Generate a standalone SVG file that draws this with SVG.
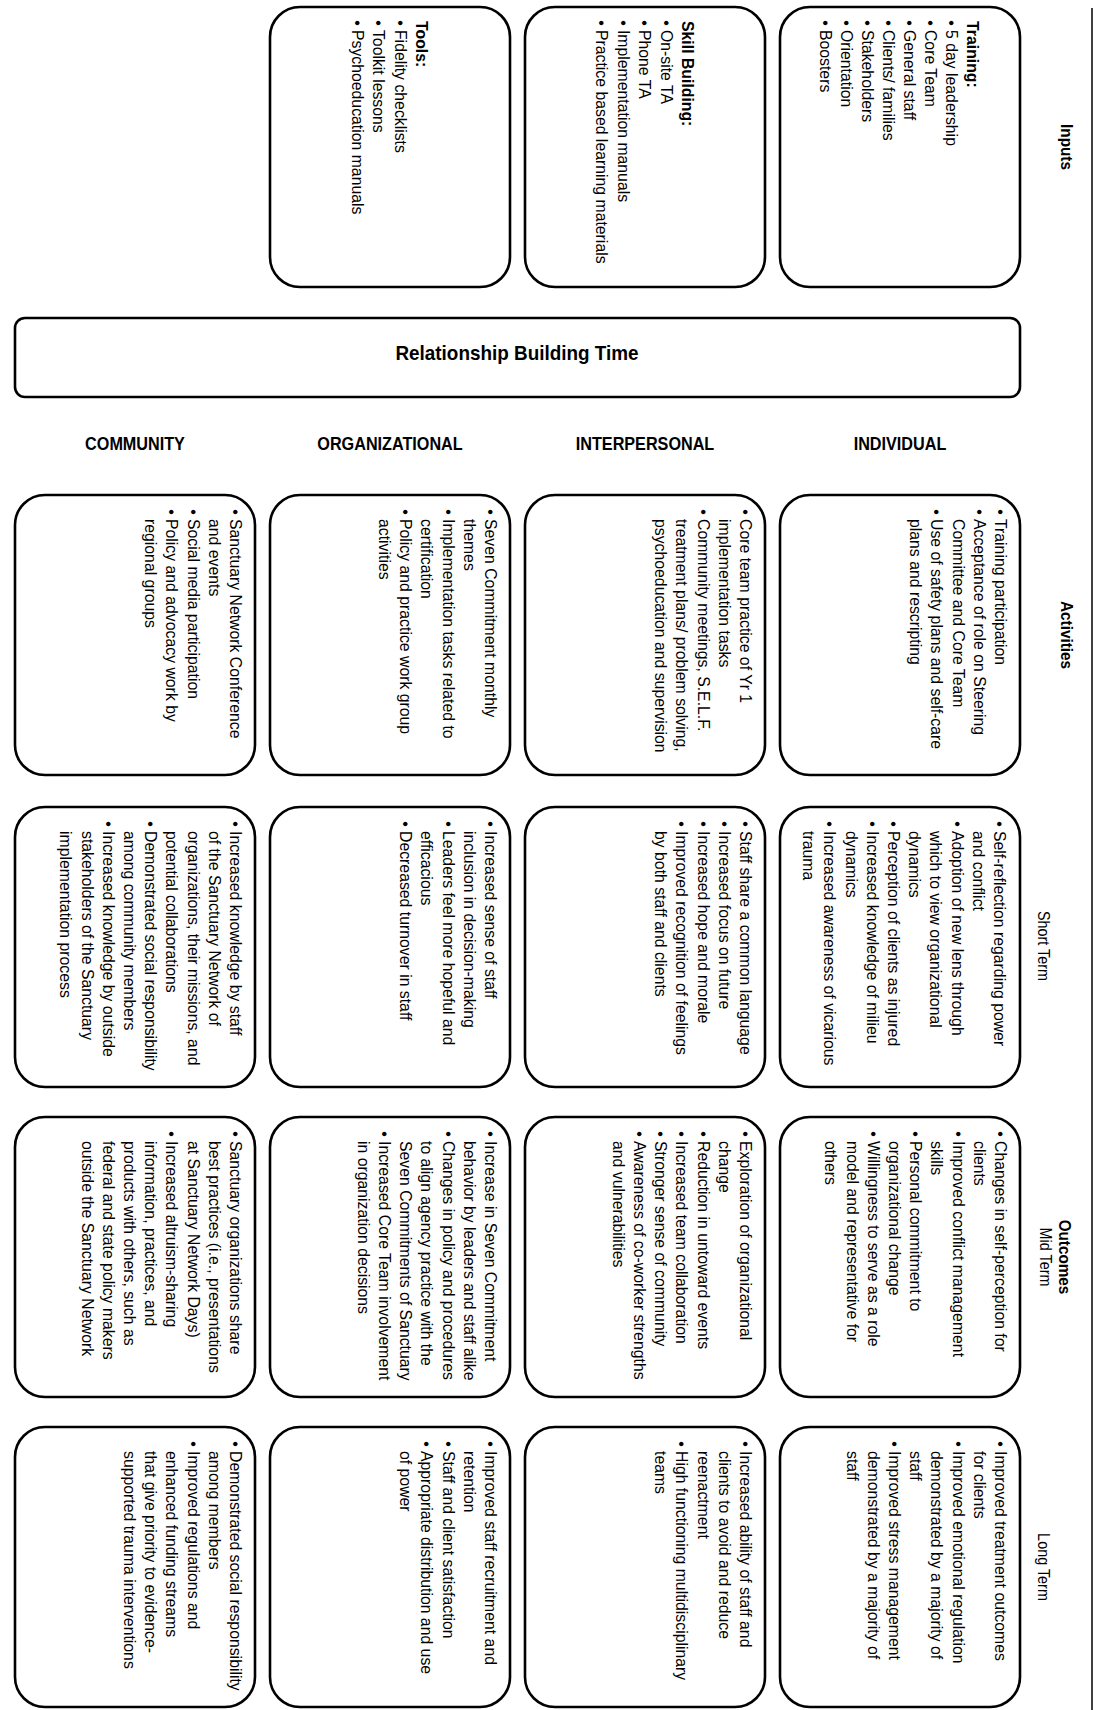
<svg xmlns="http://www.w3.org/2000/svg" width="1095" height="1710" viewBox="0 0 1095 1710">
<style>
.box{fill:#fff;stroke:#000;stroke-width:2.6}
.t{font-family:"Liberation Sans",Arial,Helvetica,sans-serif;font-size:17px;fill:#000}
.bd{font-weight:bold}
.hd{font-family:"Liberation Sans",Arial,Helvetica,sans-serif;font-size:17px;font-weight:bold;fill:#000;text-anchor:middle}
.rh{font-family:"Liberation Sans",Arial,Helvetica,sans-serif;font-size:18px;font-weight:bold;fill:#000;text-anchor:middle}
.lb{font-family:"Liberation Sans",Arial,Helvetica,sans-serif;font-size:16px;fill:#000;text-anchor:middle}
.sep{stroke:#000;stroke-width:1.5;fill:none}
</style>
<rect width="1095" height="1710" fill="#fff"/>

<g id="separator"><line class="sep" x1="1092" y1="8" x2="1092" y2="1710"/></g>
<g id="connectors"/>

<g id="column-labels">
<text class="hd" transform="translate(1061,147) rotate(90) scale(0.9,1)">Inputs</text>
<text class="hd" transform="translate(1061,635) rotate(90) scale(0.9,1)">Activities</text>
<text class="lb" transform="translate(1038,946) rotate(90) scale(0.9,1)">Short Term</text>
<text class="hd" transform="translate(1059,1257) rotate(90) scale(0.9,1)">Outcomes</text>
<text class="lb" transform="translate(1040,1257) rotate(90) scale(0.9,1)">Mid Term</text>
<text class="lb" transform="translate(1038,1567) rotate(90) scale(0.9,1)">Long Term</text>
</g>

<g id="row-headers">
<text class="rh" transform="translate(135,450) scale(0.9,1)">COMMUNITY</text>
<text class="rh" transform="translate(390,450) scale(0.9,1)">ORGANIZATIONAL</text>
<text class="rh" transform="translate(645,450) scale(0.9,1)">INTERPERSONAL</text>
<text class="rh" transform="translate(900,450) scale(0.9,1)">INDIVIDUAL</text>
</g>

<!-- Inputs -->
<g id="input-training">
<rect class="box" x="780" y="7" width="240" height="280" rx="30"/>
<g transform="translate(967,7) rotate(90) scale(0.93,1)">
<text class="t bd" x="15.1" y="0">Training:</text>
<text class="t"><tspan x="14.3" y="21">•</tspan><tspan x="14.3" y="42">•</tspan><tspan x="14.3" y="63">•</tspan><tspan x="14.3" y="84">•</tspan><tspan x="14.3" y="105">•</tspan><tspan x="14.3" y="126">•</tspan><tspan x="14.3" y="147">•</tspan></text>
<text class="t"><tspan x="24.7" y="21">5 day leadership</tspan><tspan x="24.7" y="42">Core Team</tspan><tspan x="24.7" y="63">General staff</tspan><tspan x="24.7" y="84">Clients/ families</tspan><tspan x="24.7" y="105">Stakeholders</tspan><tspan x="24.7" y="126">Orientation</tspan><tspan x="24.7" y="147">Boosters</tspan></text>
</g>
</g>

<g id="input-skill-building">
<rect class="box" x="525" y="7" width="240" height="280" rx="30"/>
<g transform="translate(682,7) rotate(90) scale(0.93,1)">
<text class="t bd" x="15.1" y="0">Skill Building:</text>
<text class="t"><tspan x="14.3" y="21.4">•</tspan><tspan x="14.3" y="42.8">•</tspan><tspan x="14.3" y="64.2">•</tspan><tspan x="14.3" y="85.6">•</tspan></text>
<text class="t"><tspan x="24.7" y="21.4">On-site TA</tspan><tspan x="24.7" y="42.8">Phone TA</tspan><tspan x="24.7" y="64.2">Implementation manuals</tspan><tspan x="24.7" y="85.6">Practice based learning materials</tspan></text>
</g>
</g>

<g id="input-tools">
<rect class="box" x="270" y="7" width="240" height="280" rx="30"/>
<g transform="translate(416,7) rotate(90) scale(0.93,1)">
<text class="t bd" x="15.1" y="0">Tools:</text>
<text class="t"><tspan x="14.3" y="21.4">•</tspan><tspan x="14.3" y="42.8">•</tspan><tspan x="14.3" y="64.2">•</tspan></text>
<text class="t"><tspan x="24.7" y="21.4">Fidelity checklists</tspan><tspan x="24.7" y="42.8">Toolkit lessons</tspan><tspan x="24.7" y="64.2">Psychoeducation manuals</tspan></text>
</g>
</g>

<g id="relationship-building-time">
<rect class="box" x="15" y="318" width="1005" height="79" rx="10"/>
<text transform="translate(517,360) scale(0.9,1)" style="font-family:'Liberation Sans',Arial,sans-serif;font-size:21px;font-weight:bold;text-anchor:middle">Relationship Building Time</text>
</g>

<!-- Activities -->
<g id="act-individual">
<rect class="box" x="780" y="495" width="240" height="280" rx="30"/>
<g transform="translate(995,495) rotate(90) scale(0.93,1)">
<text class="t"><tspan x="15.4" y="0">•</tspan><tspan x="15.4" y="21.2">•</tspan><tspan x="15.4" y="63.6">•</tspan></text>
<text class="t"><tspan x="25.8" y="0">Training participation</tspan><tspan x="25.8" y="21.2">Acceptance of role on Steering</tspan><tspan x="25.8" y="42.4">Committee and Core Team</tspan><tspan x="25.8" y="63.6">Use of safety plans and self-care</tspan><tspan x="25.8" y="84.8">plans and rescripting</tspan></text>
</g>
</g>

<g id="act-interpersonal">
<rect class="box" x="525" y="495" width="240" height="280" rx="30"/>
<g transform="translate(740,495) rotate(90) scale(0.93,1)">
<text class="t"><tspan x="15.4" y="0">•</tspan><tspan x="15.4" y="42.4">•</tspan></text>
<text class="t"><tspan x="25.8" y="0">Core team practice of Yr 1</tspan><tspan x="25.8" y="21.2">implementation tasks</tspan><tspan x="25.8" y="42.4">Community meetings, S.E.L.F.</tspan><tspan x="25.8" y="63.6">treatment plans/ problem solving,</tspan><tspan x="25.8" y="84.8">psychoeducation and supervision</tspan></text>
</g>
</g>

<g id="act-organizational">
<rect class="box" x="270" y="495" width="240" height="280" rx="30"/>
<g transform="translate(485,495) rotate(90) scale(0.93,1)">
<text class="t"><tspan x="15.4" y="0">•</tspan><tspan x="15.4" y="42.4">•</tspan><tspan x="15.4" y="84.8">•</tspan></text>
<text class="t"><tspan x="25.8" y="0">Seven Commitment monthly</tspan><tspan x="25.8" y="21.2">themes</tspan><tspan x="25.8" y="42.4">Implementation tasks related to</tspan><tspan x="25.8" y="63.6">certification</tspan><tspan x="25.8" y="84.8">Policy and practice work group</tspan><tspan x="25.8" y="106">activities</tspan></text>
</g>
</g>

<g id="act-community">
<rect class="box" x="15" y="495" width="240" height="280" rx="30"/>
<g transform="translate(230,495) rotate(90) scale(0.93,1)">
<text class="t"><tspan x="15.4" y="0">•</tspan><tspan x="15.4" y="42.4">•</tspan><tspan x="15.4" y="63.6">•</tspan></text>
<text class="t"><tspan x="25.8" y="0">Sanctuary Network Conference</tspan><tspan x="25.8" y="21.2">and events</tspan><tspan x="25.8" y="42.4">Social media participation</tspan><tspan x="25.8" y="63.6">Policy and advocacy work by</tspan><tspan x="25.8" y="84.8">regional groups</tspan></text>
</g>
</g>

<!-- Short term -->
<g id="short-individual">
<rect class="box" x="780" y="807" width="240" height="280" rx="30"/>
<g transform="translate(994,807) rotate(90) scale(0.93,1)">
<text class="t"><tspan x="15.4" y="0">•</tspan><tspan x="15.4" y="42.4">•</tspan><tspan x="15.4" y="106">•</tspan><tspan x="15.4" y="127.2">•</tspan><tspan x="15.4" y="169.6">•</tspan></text>
<text class="t"><tspan x="25.8" y="0">Self-reflection regarding power</tspan><tspan x="25.8" y="21.2">and conflict</tspan><tspan x="25.8" y="42.4">Adoption of new lens through</tspan><tspan x="25.8" y="63.6">which to view organizational</tspan><tspan x="25.8" y="84.8">dynamics</tspan><tspan x="25.8" y="106">Perception of clients as injured</tspan><tspan x="25.8" y="127.2">Increased knowledge of milieu</tspan><tspan x="25.8" y="148.4">dynamics</tspan><tspan x="25.8" y="169.6">Increased awareness of vicarious</tspan><tspan x="25.8" y="190.8">trauma</tspan></text>
</g>
</g>

<g id="short-interpersonal">
<rect class="box" x="525" y="807" width="240" height="280" rx="30"/>
<g transform="translate(740,807) rotate(90) scale(0.93,1)">
<text class="t"><tspan x="15.4" y="0">•</tspan><tspan x="15.4" y="21.2">•</tspan><tspan x="15.4" y="42.4">•</tspan><tspan x="15.4" y="63.6">•</tspan></text>
<text class="t"><tspan x="25.8" y="0">Staff share a common language</tspan><tspan x="25.8" y="21.2">Increased focus on future</tspan><tspan x="25.8" y="42.4">Increased hope and morale</tspan><tspan x="25.8" y="63.6">Improved recognition of feelings</tspan><tspan x="25.8" y="84.8">by both staff and clients</tspan></text>
</g>
</g>

<g id="short-organizational">
<rect class="box" x="270" y="807" width="240" height="280" rx="30"/>
<g transform="translate(485,807) rotate(90) scale(0.93,1)">
<text class="t"><tspan x="15.4" y="0">•</tspan><tspan x="15.4" y="42.4">•</tspan><tspan x="15.4" y="84.8">•</tspan></text>
<text class="t"><tspan x="25.8" y="0">Increased sense of staff</tspan><tspan x="25.8" y="21.2">inclusion in decision-making</tspan><tspan x="25.8" y="42.4">Leaders feel more hopeful and</tspan><tspan x="25.8" y="63.6">efficacious</tspan><tspan x="25.8" y="84.8">Decreased turnover in staff</tspan></text>
</g>
</g>

<g id="short-community">
<rect class="box" x="15" y="807" width="240" height="280" rx="30"/>
<g transform="translate(230,807) rotate(90) scale(0.93,1)">
<text class="t"><tspan x="15.4" y="0">•</tspan><tspan x="15.4" y="84.8">•</tspan><tspan x="15.4" y="127.2">•</tspan></text>
<text class="t"><tspan x="25.8" y="0">Increased knowledge by staff</tspan><tspan x="25.8" y="21.2">of the Sanctuary Network of</tspan><tspan x="25.8" y="42.4">organizations, their missions, and</tspan><tspan x="25.8" y="63.6">potential collaborations</tspan><tspan x="25.8" y="84.8">Demonstrated social responsibility</tspan><tspan x="25.8" y="106">among community members</tspan><tspan x="25.8" y="127.2">Increased knowledge by outside</tspan><tspan x="25.8" y="148.4">stakeholders of the Sanctuary</tspan><tspan x="25.8" y="169.6">implementation process</tspan></text>
</g>
</g>

<!-- Mid term -->
<g id="mid-individual">
<rect class="box" x="780" y="1117" width="240" height="280" rx="30"/>
<g transform="translate(995,1117) rotate(90) scale(0.93,1)">
<text class="t"><tspan x="15.4" y="0">•</tspan><tspan x="15.4" y="42.4">•</tspan><tspan x="15.4" y="84.8">•</tspan><tspan x="15.4" y="127.2">•</tspan></text>
<text class="t"><tspan x="25.8" y="0">Changes in self-perception for</tspan><tspan x="25.8" y="21.2">clients</tspan><tspan x="25.8" y="42.4">Improved conflict management</tspan><tspan x="25.8" y="63.6">skills</tspan><tspan x="25.8" y="84.8">Personal commitment to</tspan><tspan x="25.8" y="106">organizational change</tspan><tspan x="25.8" y="127.2">Willingness to serve as a role</tspan><tspan x="25.8" y="148.4">model and representative for</tspan><tspan x="25.8" y="169.6">others</tspan></text>
</g>
</g>

<g id="mid-interpersonal">
<rect class="box" x="525" y="1117" width="240" height="280" rx="30"/>
<g transform="translate(740,1117) rotate(90) scale(0.93,1)">
<text class="t"><tspan x="15.4" y="0">•</tspan><tspan x="15.4" y="42.4">•</tspan><tspan x="15.4" y="63.6">•</tspan><tspan x="15.4" y="84.8">•</tspan><tspan x="15.4" y="106">•</tspan></text>
<text class="t"><tspan x="25.8" y="0">Exploration of organizational</tspan><tspan x="25.8" y="21.2">change</tspan><tspan x="25.8" y="42.4">Reduction in untoward events</tspan><tspan x="25.8" y="63.6">Increased team collaboration</tspan><tspan x="25.8" y="84.8">Stronger sense of community</tspan><tspan x="25.8" y="106">Awareness of co-worker strengths</tspan><tspan x="25.8" y="127.2">and vulnerabilities</tspan></text>
</g>
</g>

<g id="mid-organizational">
<rect class="box" x="270" y="1117" width="240" height="280" rx="30"/>
<g transform="translate(485,1117) rotate(90) scale(0.93,1)">
<text class="t"><tspan x="15.4" y="0">•</tspan><tspan x="15.4" y="42.4">•</tspan><tspan x="15.4" y="106">•</tspan></text>
<text class="t"><tspan x="25.8" y="0">Increase in Seven Commitment</tspan><tspan x="25.8" y="21.2">behavior by leaders and staff alike</tspan><tspan x="25.8" y="42.4">Changes in policy and procedures</tspan><tspan x="25.8" y="63.6">to align agency practice with the</tspan><tspan x="25.8" y="84.8">Seven Commitments of Sanctuary</tspan><tspan x="25.8" y="106">Increased Core Team involvement</tspan><tspan x="25.8" y="127.2">in organization decisions</tspan></text>
</g>
</g>

<g id="mid-community">
<rect class="box" x="15" y="1117" width="240" height="280" rx="30"/>
<g transform="translate(230,1117) rotate(90) scale(0.93,1)">
<text class="t"><tspan x="15.4" y="0">•</tspan><tspan x="15.4" y="63.6">•</tspan></text>
<text class="t"><tspan x="25.8" y="0">Sanctuary organizations share</tspan><tspan x="25.8" y="21.2">best practices (i.e., presentations</tspan><tspan x="25.8" y="42.4">at Sanctuary Network Days)</tspan><tspan x="25.8" y="63.6">Increased altruism-sharing</tspan><tspan x="25.8" y="84.8">information, practices, and</tspan><tspan x="25.8" y="106">products with others, such as</tspan><tspan x="25.8" y="127.2">federal and state policy makers</tspan><tspan x="25.8" y="148.4">outside the Sanctuary Network</tspan></text>
</g>
</g>

<!-- Long term -->
<g id="long-individual">
<rect class="box" x="780" y="1427" width="240" height="280" rx="30"/>
<g transform="translate(995,1427) rotate(90) scale(0.93,1)">
<text class="t"><tspan x="15.4" y="0">•</tspan><tspan x="15.4" y="42.4">•</tspan><tspan x="15.4" y="106">•</tspan></text>
<text class="t"><tspan x="25.8" y="0">Improved treatment outcomes</tspan><tspan x="25.8" y="21.2">for clients</tspan><tspan x="25.8" y="42.4">Improved emotional regulation</tspan><tspan x="25.8" y="63.6">demonstrated by a majority of</tspan><tspan x="25.8" y="84.8">staff</tspan><tspan x="25.8" y="106">Improved stress management</tspan><tspan x="25.8" y="127.2">demonstrated by a majority of</tspan><tspan x="25.8" y="148.4">staff</tspan></text>
</g>
</g>

<g id="long-interpersonal">
<rect class="box" x="525" y="1427" width="240" height="280" rx="30"/>
<g transform="translate(740,1427) rotate(90) scale(0.93,1)">
<text class="t"><tspan x="15.4" y="0">•</tspan><tspan x="15.4" y="63.6">•</tspan></text>
<text class="t"><tspan x="25.8" y="0">Increased ability of staff and</tspan><tspan x="25.8" y="21.2">clients to avoid and reduce</tspan><tspan x="25.8" y="42.4">reenactment</tspan><tspan x="25.8" y="63.6">High functioning multidisciplinary</tspan><tspan x="25.8" y="84.8">teams</tspan></text>
</g>
</g>

<g id="long-organizational">
<rect class="box" x="270" y="1427" width="240" height="280" rx="30"/>
<g transform="translate(485,1427) rotate(90) scale(0.93,1)">
<text class="t"><tspan x="15.4" y="0">•</tspan><tspan x="15.4" y="42.4">•</tspan><tspan x="15.4" y="63.6">•</tspan></text>
<text class="t"><tspan x="25.8" y="0">Improved staff recruitment and</tspan><tspan x="25.8" y="21.2">retention</tspan><tspan x="25.8" y="42.4">Staff and client satisfaction</tspan><tspan x="25.8" y="63.6">Appropriate distribution and use</tspan><tspan x="25.8" y="84.8">of power</tspan></text>
</g>
</g>

<g id="long-community">
<rect class="box" x="15" y="1427" width="240" height="280" rx="30"/>
<g transform="translate(230,1427) rotate(90) scale(0.93,1)">
<text class="t"><tspan x="15.4" y="0">•</tspan><tspan x="15.4" y="42.4">•</tspan></text>
<text class="t"><tspan x="25.8" y="0">Demonstrated social responsibility</tspan><tspan x="25.8" y="21.2">among members</tspan><tspan x="25.8" y="42.4">Improved regulations and</tspan><tspan x="25.8" y="63.6">enhanced funding streams</tspan><tspan x="25.8" y="84.8">that give priority to evidence-</tspan><tspan x="25.8" y="106">supported trauma interventions</tspan></text>
</g>
</g>
</svg>
